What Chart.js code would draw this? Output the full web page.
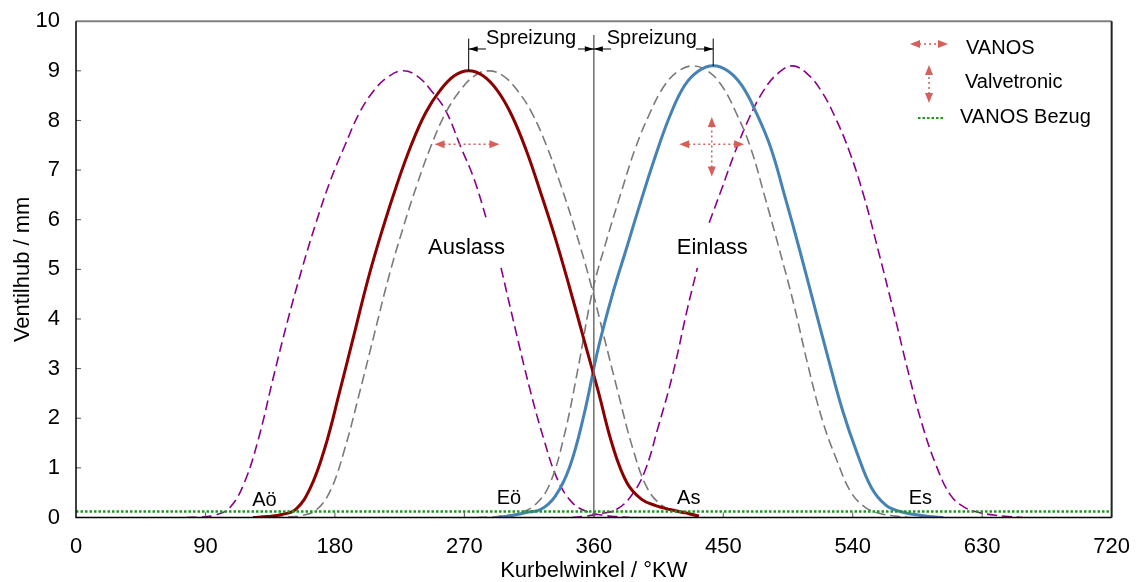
<!DOCTYPE html>
<html>
<head>
<meta charset="utf-8">
<script src="https://cdn.jsdelivr.net/npm/chart.js@4.4.1/dist/chart.umd.min.js"></script>
<style>
  html, body { margin: 0; padding: 0; background: #fff; }
  #wrap { width: 1138px; height: 582px; }
</style>
</head>
<body>
<div id="wrap"><canvas id="chart" width="1138" height="582"></canvas></div>
<script>
// Axes
const xTicks = [0, 90, 180, 270, 360, 450, 540, 630, 720];
const yTicks = [0, 1, 2, 3, 4, 5, 6, 7, 8, 9, 10];

// Auslass (exhaust) - solid dark red
const angleAuslass = [123, 133, 143, 153, 163, 173, 183, 193, 203, 213, 223, 233, 243, 253, 263, 273, 283, 293, 303, 313, 323, 333, 343, 353, 363, 373, 383, 393, 403, 413, 423, 433];
const liftAuslass = [0.0, 0.02, 0.06, 0.17, 0.6, 1.4, 2.5, 3.65, 4.8, 5.8, 6.7, 7.5, 8.15, 8.6, 8.9, 9.0, 8.9, 8.6, 8.1, 7.4, 6.55, 5.65, 4.65, 3.6, 2.55, 1.45, 0.7, 0.37, 0.24, 0.16, 0.1, 0.03];

// Einlass (intake) - solid steel blue
const angleEinlass = [293, 303, 313, 323, 333, 343, 353, 363, 373, 383, 393, 403, 413, 423, 433, 443, 453, 463, 473, 483, 493, 503, 513, 523, 533, 543, 553, 563, 573, 583, 593, 603];
const liftEinlass = [0.0, 0.04, 0.1, 0.16, 0.42, 1.0, 2.05, 3.4, 4.5, 5.45, 6.4, 7.3, 8.1, 8.7, 9.0, 9.1, 9.0, 8.7, 8.15, 7.45, 6.45, 5.4, 4.3, 3.2, 2.15, 1.3, 0.6, 0.25, 0.12, 0.06, 0.02, 0.0];

// shifted variants - gray dashed
const angleAuslassGrau = [137, 147, 157, 167, 177, 187, 197, 207, 217, 227, 237, 247, 257, 267, 277, 287, 297, 307, 317, 327, 337, 347, 357, 367, 377, 387, 397, 407, 417, 427, 437];
const liftAuslassGrau = [0.0, 0.01, 0.04, 0.15, 0.55, 1.4, 2.5, 3.65, 4.8, 5.8, 6.7, 7.5, 8.15, 8.6, 8.9, 9.0, 8.9, 8.6, 8.15, 7.5, 6.7, 5.8, 4.8, 3.65, 2.5, 1.4, 0.6, 0.25, 0.12, 0.05, 0.0];
const angleEinlassGrau = [279, 289, 299, 309, 319, 329, 339, 349, 359, 369, 379, 389, 399, 409, 419, 429, 439, 449, 459, 469, 479, 489, 499, 509, 519, 529, 539, 549, 559, 569, 579];
const liftEinlassGrau = [0.0, 0.01, 0.04, 0.1, 0.25, 0.65, 1.6, 3.0, 4.55, 5.6, 6.55, 7.45, 8.15, 8.7, 9.0, 9.1, 9.0, 8.7, 8.15, 7.45, 6.45, 5.4, 4.3, 3.05, 1.95, 1.15, 0.5, 0.2, 0.08, 0.03, 0.0];

// extreme variants - purple dashed (null = gap around the label)
const angleAuslassLila = [77, 87, 97, 107, 117, 127, 137, 147, 157, 167, 177, 187, 197, 207, 217, 227, 237, 247, 257, 267, 277, 285.8, 290, 295.5, 305, 315, 325, 335, 345, 355, 365, 375, 385];
const liftAuslassLila = [0.0, 0.01, 0.05, 0.2, 0.7, 1.6, 2.8, 3.95, 5.0, 5.95, 6.8, 7.5, 8.15, 8.6, 8.88, 9.0, 8.9, 8.6, 8.2, 7.5, 6.8, 5.97, null, 5.03, 3.85, 2.65, 1.6, 0.75, 0.3, 0.12, 0.05, 0.02, 0.0];
const angleEinlassLila = [345, 355, 365, 375, 385, 395, 405, 415, 425, 432, 436, 440.2, 448, 458, 468, 478, 488, 498, 508, 518, 528, 538, 548, 558, 568, 578, 588, 598, 608, 618, 628, 638, 648, 658];
const liftEinlassLila = [0.0, 0.03, 0.08, 0.15, 0.4, 0.9, 1.85, 2.9, 4.2, 5.03, null, 5.94, 6.55, 7.35, 8.05, 8.6, 8.95, 9.1, 8.95, 8.6, 8.05, 7.35, 6.45, 5.35, 4.2, 3.0, 1.9, 1.05, 0.45, 0.2, 0.1, 0.05, 0.02, 0.0];

// reference lines
const bezugLift = 0.12;
const otAngle = 360;
const otTop = 9.72;

// annotations
const eventLabels = ['Aö', 'Eö', 'As', 'Es'];
const eventAngles = [131, 301, 426, 587];
const eventLift = [0.24, 0.28, 0.28, 0.28];
const spreizPeaks = [273, 443];
const spreizPeakLift = [9.0, 9.1];

const FONT = '"Liberation Sans", Arial, Helvetica, sans-serif';
const RED_ARROW = '#d65f5a';

const toXY = (xs, ys) => xs.map((x, i) => ({ x: x, y: ys[i] }));

function head(ctx, x, y, dx, dy, len, half) {
    ctx.beginPath();
    ctx.moveTo(x, y);
    ctx.lineTo(x - dx * len - dy * half, y - dy * len + dx * half);
    ctx.lineTo(x - dx * len + dy * half, y - dy * len - dx * half);
    ctx.closePath();
    ctx.fill();
}

function redArrow(ctx, x1, y1, x2, y2) {
    const L = Math.hypot(x2 - x1, y2 - y1);
    const dx = (x2 - x1) / L, dy = (y2 - y1) / L;
    ctx.save();
    ctx.strokeStyle = RED_ARROW;
    ctx.fillStyle = RED_ARROW;
    ctx.lineWidth = 1.5;
    ctx.setLineDash([2, 3]);
    ctx.beginPath();
    ctx.moveTo(x1 + dx * 9, y1 + dy * 9);
    ctx.lineTo(x2 - dx * 9, y2 - dy * 9);
    ctx.stroke();
    ctx.setLineDash([]);
    head(ctx, x2, y2, dx, dy, 10, 4);
    head(ctx, x1, y1, -dx, -dy, 10, 4);
    ctx.restore();
}

function blackArrow(ctx, xFrom, xTip, y) {
    const dx = xTip > xFrom ? 1 : -1;
    ctx.beginPath();
    ctx.moveTo(xFrom, y);
    ctx.lineTo(xTip, y);
    ctx.stroke();
    head(ctx, xTip, y, dx, 0, 9, 2.8);
}

const annotations = {
    id: 'annotations',
    afterDatasetsDraw(chart) {
        const ctx = chart.ctx;
        const { left, right, top, bottom } = chart.chartArea;
        const sx = chart.scales.x, sy = chart.scales.y;
        const X = v => sx.getPixelForValue(v);
        const Y = v => sy.getPixelForValue(v);

        ctx.save();
        // inside tick marks
        ctx.strokeStyle = '#555';
        ctx.lineWidth = 1;
        xTicks.slice(1, -1).forEach(t => {
            ctx.beginPath(); ctx.moveTo(X(t), bottom); ctx.lineTo(X(t), bottom - 5); ctx.stroke();
        });
        yTicks.slice(1, -1).forEach(t => {
            ctx.beginPath(); ctx.moveTo(left, Y(t)); ctx.lineTo(left + 5, Y(t)); ctx.stroke();
        });

        // frame
        ctx.lineWidth = 2;
        ctx.strokeStyle = '#808080';
        ctx.beginPath(); ctx.moveTo(left, top); ctx.lineTo(right, top); ctx.stroke();
        ctx.strokeStyle = '#222';
        ctx.beginPath(); ctx.moveTo(right, top); ctx.lineTo(right, bottom); ctx.stroke();
        ctx.lineWidth = 1.5;
        ctx.strokeStyle = '#000';
        ctx.beginPath(); ctx.moveTo(left, top); ctx.lineTo(left, bottom); ctx.lineTo(right, bottom); ctx.stroke();

        // Spreizung markers
        ctx.strokeStyle = '#000';
        ctx.fillStyle = '#000';
        ctx.lineWidth = 1;
        const yArr = Y(9.44);
        spreizPeaks.forEach((p, i) => {
            ctx.beginPath(); ctx.moveTo(X(p), Y(9.65)); ctx.lineTo(X(p), Y(spreizPeakLift[i])); ctx.stroke();
        });
        blackArrow(ctx, X(285), X(273), yArr);
        blackArrow(ctx, X(349), X(otAngle), yArr);
        blackArrow(ctx, X(372), X(otAngle), yArr);
        blackArrow(ctx, X(431), X(443), yArr);

        ctx.textAlign = 'center';
        ctx.textBaseline = 'alphabetic';
        ctx.font = '20px ' + FONT;
        ctx.fillText('Spreizung', X(316.4), Y(9.55));
        ctx.fillText('Spreizung', X(400.3), Y(9.55));

        // curve labels
        ctx.font = '22px ' + FONT;
        ctx.fillText('Auslass', X(271.5), Y(5.3));
        ctx.fillText('Einlass', X(442.3), Y(5.3));
        ctx.font = '20px ' + FONT;
        eventLabels.forEach((t, i) => ctx.fillText(t, X(eventAngles[i]), Y(eventLift[i])));

        // VANOS / Valvetronic arrows
        redArrow(ctx, X(249.3), Y(7.52), X(294.4), Y(7.52));
        redArrow(ctx, X(419.4), Y(7.52), X(464.5), Y(7.52));
        redArrow(ctx, X(442), Y(6.87), X(442), Y(8.07));

        // legend
        redArrow(ctx, 910, 44, 948, 44);
        redArrow(ctx, 929, 103, 929, 65);
        ctx.strokeStyle = '#1a9a1a';
        ctx.lineWidth = 2;
        ctx.setLineDash([2.5, 2]);
        ctx.beginPath(); ctx.moveTo(918, 118); ctx.lineTo(943, 118); ctx.stroke();
        ctx.setLineDash([]);
        ctx.fillStyle = '#000';
        ctx.textAlign = 'left';
        ctx.font = '20px ' + FONT;
        ctx.fillText('VANOS', 966, 54);
        ctx.fillText('Valvetronic', 965, 88);
        ctx.fillText('VANOS Bezug', 960, 123);
        ctx.restore();
    }
};

const dashed = (label, xs, ys, color) => ({
    label: label,
    data: toXY(xs, ys),
    borderColor: color,
    borderWidth: 1.6,
    borderDash: [10, 5],
    pointRadius: 0,
    tension: 0.4,
    spanGaps: false
});

new Chart(document.getElementById('chart'), {
    type: 'line',
    data: {
        datasets: [
            {
                label: 'VANOS Bezug',
                data: [{ x: 0, y: bezugLift }, { x: 720, y: bezugLift }],
                borderColor: '#1a9a1a',
                borderWidth: 2.5,
                borderDash: [2.5, 2],
                pointRadius: 0
            },
            {
                label: 'OT',
                data: [{ x: otAngle, y: 0 }, { x: otAngle, y: otTop }],
                borderColor: '#6e6e6e',
                borderWidth: 1.5,
                pointRadius: 0
            },
            {
                label: 'Auslass',
                data: toXY(angleAuslass, liftAuslass),
                borderColor: '#8b0000',
                borderWidth: 3,
                pointRadius: 0,
                tension: 0.4
            },
            {
                label: 'Einlass',
                data: toXY(angleEinlass, liftEinlass),
                borderColor: '#4682b4',
                borderWidth: 3,
                pointRadius: 0,
                tension: 0.4
            },
            dashed('Auslass VANOS', angleAuslassGrau, liftAuslassGrau, '#7a7a7a'),
            dashed('Einlass VANOS', angleEinlassGrau, liftEinlassGrau, '#7a7a7a'),
            dashed('Auslass max', angleAuslassLila, liftAuslassLila, '#8b008b'),
            dashed('Einlass max', angleEinlassLila, liftEinlassLila, '#8b008b')
        ]
    },
    options: {
        responsive: false,
        animation: false,
        events: [],
        layout: { padding: { top: 19, right: 25, left: 0, bottom: 0 } },
        plugins: { legend: { display: false }, tooltip: { enabled: false } },
        scales: {
            x: {
                type: 'linear',
                min: 0,
                max: 720,
                afterBuildTicks: s => { s.ticks = xTicks.map(v => ({ value: v })); },
                afterFit: s => { s.height = 64.5; },
                grid: { display: false },
                border: { display: false },
                ticks: { color: '#000', font: { family: FONT, size: 22 }, padding: 8, maxRotation: 0, autoSkip: false },
                title: {
                    display: true,
                    text: 'Kurbelwinkel / °KW',
                    color: '#000',
                    font: { family: FONT, size: 22, lineHeight: 1 },
                    padding: { top: 0, bottom: 0 }
                }
            },
            y: {
                type: 'linear',
                min: 0,
                max: 10,
                afterBuildTicks: s => { s.ticks = yTicks.map(v => ({ value: v })); },
                afterFit: s => { s.width = 76; },
                grid: { display: false },
                border: { display: false },
                ticks: { color: '#000', font: { family: FONT, size: 22 }, padding: 8 },
                title: {
                    display: true,
                    text: 'Ventilhub / mm',
                    color: '#000',
                    font: { family: FONT, size: 22, lineHeight: 1 },
                    padding: { top: 11.5, bottom: 0 }
                }
            }
        }
    },
    plugins: [annotations]
});
</script>
</body>
</html>
